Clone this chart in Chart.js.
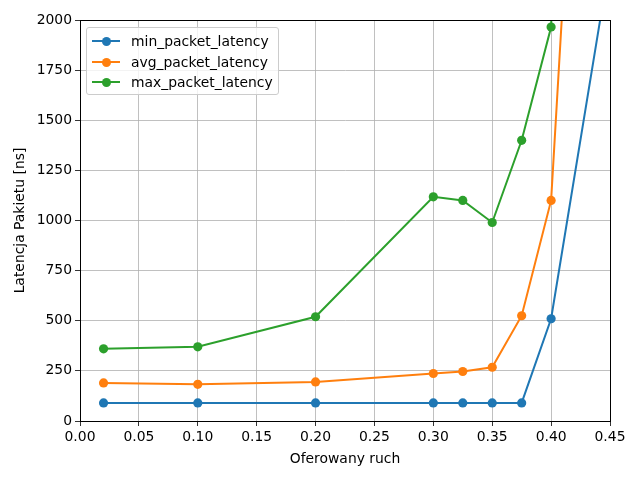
<!DOCTYPE html>
<html>
<head>
<meta charset="utf-8">
<script src="https://cdn.jsdelivr.net/npm/chart.js@4/dist/chart.umd.min.js"></script>
<style>
  html, body { margin: 0; padding: 0; background: #fff; }
  #wrap { position: relative; width: 640px; height: 480px; }
  #legend {
    position: absolute; left: 86px; top: 27px; width: 191px; height: 66px;
    border: 1px solid #cccccc; border-radius: 3px; background: rgba(255,255,255,0.8);
    font-family: "DejaVu Sans", sans-serif; font-size: 13.9px; color: #000;
  }
  .row { position: absolute; left: 0; height: 20px; display: flex; align-items: center; }
  .sw { position: relative; width: 28px; height: 20px; margin-left: 5px; margin-right: 11px; }
  .sw .ln { position: absolute; left: 0; right: 0; top: 9px; height: 2px; }
  .sw .dot { position: absolute; left: 10px; top: 6px; width: 9px; height: 9px; border-radius: 50%; }
</style>
</head>
<body>
<div id="wrap">
  <canvas id="chart" width="640" height="480"></canvas>
  <div id="legend"></div>
</div>
<script>
// offered traffic (x) and latency per series
const offeredLoad = [0.02, 0.1, 0.2, 0.3, 0.325, 0.35, 0.375, 0.4, 0.45];
const minLatency = [90, 90, 90, 90, 90, 90, 90, 510, 2300];
const avgLatency = [190, 183, 195, 237, 247, 268, 525, 1100, 6100];
const maxLatency = [360, 370, 520, 1118, 1100, 990, 1400, 1965, 12000];

const seriesNames = ['min_packet_latency', 'avg_packet_latency', 'max_packet_latency'];
const seriesColors = ['#1f77b4', '#ff7f0e', '#2ca02c'];
const seriesValues = [minLatency, avgLatency, maxLatency];

const font = { family: '"DejaVu Sans", sans-serif', size: 13.9 };

// legend as html box inside plot
const legend = document.getElementById('legend');
seriesNames.forEach((name, i) => {
  const row = document.createElement('div');
  row.className = 'row';
  row.style.top = (3 + i * 20.5) + 'px';
  row.innerHTML = `<span class="sw"><span class="ln" style="background:${seriesColors[i]}"></span>` +
    `<span class="dot" style="background:${seriesColors[i]}"></span></span><span>${name}</span>`;
  legend.appendChild(row);
});

// frame on all four sides
const frame = {
  id: 'frame',
  afterDraw(chart) {
    const { ctx, chartArea: a } = chart;
    ctx.save();
    ctx.strokeStyle = '#000';
    ctx.lineWidth = 1;
    ctx.strokeRect(Math.round(a.left) + 0.5, Math.round(a.top) + 0.5,
                   Math.round(a.right - a.left), Math.round(a.bottom - a.top));
    ctx.restore();
  }
};

const datasets = seriesNames.map((name, i) => ({
  label: name,
  data: offeredLoad.map((x, j) => ({ x: x, y: seriesValues[i][j] })),
  borderColor: seriesColors[i],
  backgroundColor: seriesColors[i],
  borderWidth: 2,
  pointRadius: 4.6,
  pointHoverRadius: 4.6,
  pointBorderWidth: 0,
  order: 2 - i
}));

new Chart(document.getElementById('chart'), {
  type: 'line',
  data: { datasets },
  plugins: [frame],
  options: {
    responsive: false,
    animation: false,
    layout: { padding: { top: 20, right: 30, left: 0, bottom: 0 } },
    plugins: { legend: { display: false }, tooltip: { enabled: false } },
    scales: {
      x: {
        type: 'linear', min: 0, max: 0.45,
        afterFit(s) { s.height = 59; },
        ticks: { stepSize: 0.05, color: '#000', font, padding: 3,
                 callback: v => v.toFixed(2) },
        grid: { color: '#b0b0b0', lineWidth: 0.8, tickColor: '#000', tickLength: 5 },
        border: { color: '#000' },
        title: { display: true, text: 'Oferowany ruch', color: '#000', font, padding: { top: 3, bottom: 12 } }
      },
      y: {
        type: 'linear', min: 0, max: 2000,
        afterFit(s) { s.width = 80; },
        ticks: { stepSize: 250, color: '#000', font, padding: 3,
                 callback: v => String(v) },
        grid: { color: '#b0b0b0', lineWidth: 0.8, tickColor: '#000', tickLength: 5 },
        border: { color: '#000' },
        title: { display: true, text: 'Latencja Pakietu [ns]', color: '#000', font, padding: { top: 12, bottom: 4 } }
      }
    }
  }
});
</script>
</body>
</html>
